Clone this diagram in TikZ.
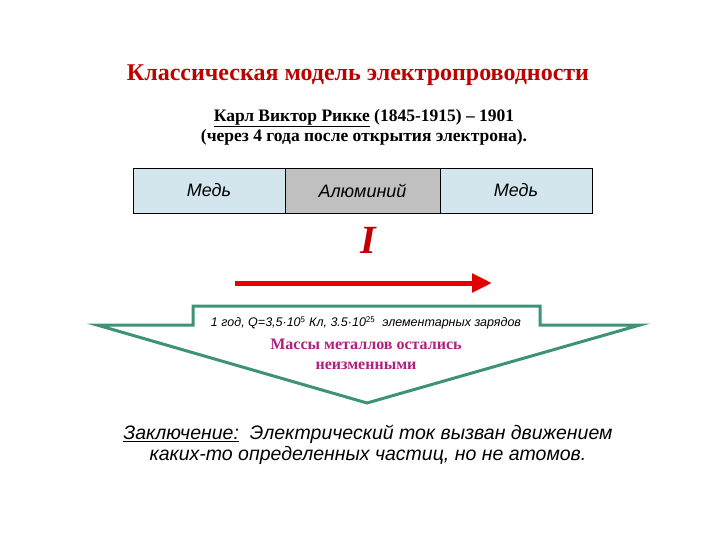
\documentclass[tikz,border=0pt]{standalone}
\usepackage{fontspec}
\setmainfont{Liberation Serif}
\newfontfamily\sans{Liberation Sans}
\usetikzlibrary{arrows.meta}
\definecolor{boxblue}{HTML}{D3E6EE}
\definecolor{boxgrey}{HTML}{C0C0C0}
\definecolor{arrgreen}{HTML}{3E9277}
\definecolor{mag}{HTML}{B0207F}
\definecolor{dred}{HTML}{C00000}
\begin{document}
\begin{tikzpicture}[x=1pt,y=-1pt,
  metal/.style={draw=black,minimum height=45pt,inner sep=0pt,font=\sans\itshape\fontsize{18}{20}\selectfont}]
\useasboundingbox (0,0) rectangle (720,540);
\node (title) at (358,75) {\bfseries\fontsize{24}{28}\selectfont\color{dred}Классическая модель электропроводности};
\node (sub) at (364,127) [align=center,font=\bfseries\fontsize{17.5}{20}\selectfont] {\underline{Карл Виктор Рикке} (1845-1915) – 1901\\(через 4 года после открытия электрона).};
\node[metal,fill=boxblue,minimum width=152pt] (m1) at (209,190.5) {Медь};
\node[metal,fill=boxgrey,minimum width=155pt] (m2) at (362.5,190.5) {Алюминий};
\node[metal,fill=boxblue,minimum width=152pt] (m3) at (516,190.5) {Медь};
\node (I) at (368,240) {\color{dred}\bfseries\itshape\fontsize{40}{42}\selectfont I};
\coordinate (a0) at (235,283);
\coordinate (a1) at (492,283);
\draw[red!90!black,line width=5pt,-{Triangle[length=20pt,width=18pt]}] (a0) -- (a1);
\draw[arrgreen,line width=3pt,fill=white,line join=miter]
 (193,306) -- (540,306) -- (540,325) -- (640,325) -- (367,403) -- (97,325) -- (193,325) -- cycle;
\node (q) at (366,323) {\sans\itshape\fontsize{12.5}{14}\selectfont 1 год, Q=3,5·10$^{\mathsf 5}$ Кл, 3.5·10$^{\mathsf{25}}$ \ элементарных зарядов};
\node (mass) at (366,354) [align=center,font=\bfseries\fontsize{16}{20}\selectfont,text=mag] {Массы металлов остались\\неизменными};
\node (concl) at (368,445) [align=center,font=\sans\itshape\fontsize{19.5}{21}\selectfont] {\underline{Заключение:} \ Электрический ток вызван движением\\каких-то определенных частиц, но не атомов.};
\end{tikzpicture}
\end{document}
